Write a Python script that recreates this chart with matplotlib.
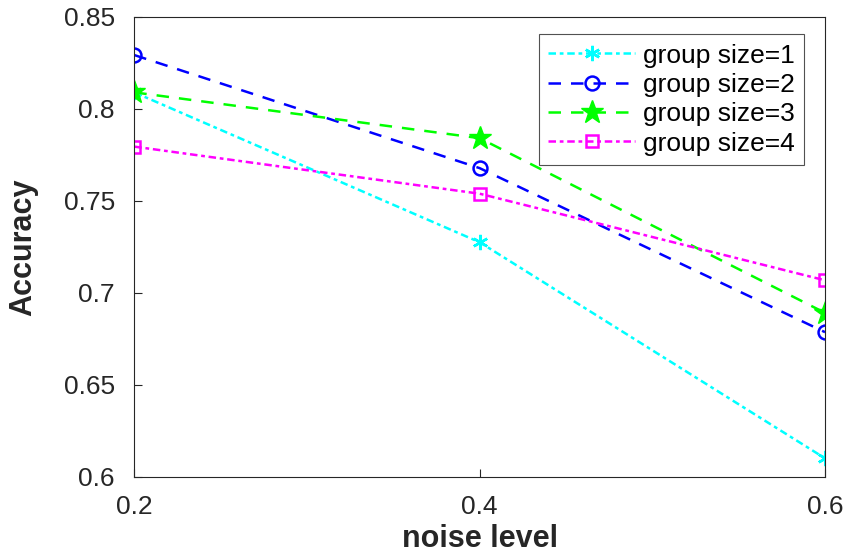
import matplotlib
matplotlib.use('Agg')
import matplotlib.pyplot as plt

plt.rcParams['font.family'] = ['Liberation Sans', 'DejaVu Sans']

# data
noise = [0.2, 0.4, 0.6]
acc_g1 = [0.809, 0.7275, 0.610]
acc_g2 = [0.8293, 0.7678, 0.6786]
acc_g3 = [0.809, 0.7841, 0.6891]
acc_g4 = [0.7795, 0.7539, 0.7068]
labels = ['group size=1', 'group size=2', 'group size=3', 'group size=4']

fig = plt.figure(figsize=(8.44, 5.57), dpi=100)
ax = fig.add_axes([0.1591, 0.1442, 0.8184, 0.8253])

asterisk = (6, 2, 0)
ax.plot(noise, acc_g1, color='#00ffff', ls=(0, (3, 1.5, 1.5, 1.5)), lw=1.8,
        marker=asterisk, ms=11, mew=1.8, label=labels[0])
ax.plot(noise, acc_g2, color='#0000ff', ls=(0, (5, 4)), lw=1.8,
        marker='o', ms=10, mfc='none', mew=1.8, label=labels[1])
ax.plot(noise, acc_g3, color='#00ff00', ls=(0, (5, 4)), lw=1.8,
        marker='*', ms=17, label=labels[2])
ax.plot(noise, acc_g4, color='#ff00ff', ls=(0, (3, 1.5, 1.5, 1.5)), lw=1.8,
        marker='s', ms=9, mfc='none', mew=1.8, label=labels[3])

ax.set_xlim(0.2, 0.6)
ax.set_ylim(0.6, 0.85)
ax.set_xticks(noise)
ax.set_xticklabels(['0.2', '0.4', '0.6'])
ax.set_yticks([0.6, 0.65, 0.7, 0.75, 0.8, 0.85])
ax.set_yticklabels(['0.6', '0.65', '0.7', '0.75', '0.8', '0.85'])
ax.tick_params(direction='in', length=6, width=0.8, labelsize=19,
               colors='#262626', top=False, right=False)
ax.tick_params(axis='y', pad=14)
ax.tick_params(axis='x', pad=13)
for s in ax.spines.values():
    s.set_color('#262626')
    s.set_linewidth(0.8)

ax.set_xlabel('noise level', fontsize=22, fontweight='bold', color='#262626', labelpad=4)
ax.set_ylabel('Accuracy', fontsize=22, fontweight='bold', color='#262626', labelpad=18)

leg = ax.legend(loc='upper right', bbox_to_anchor=(0.97, 0.962), fontsize=19,
                frameon=True, fancybox=False, edgecolor='#262626',
                handlelength=3.3, handletextpad=0.3, borderpad=0.35,
                labelspacing=0.2, borderaxespad=0)
leg.get_frame().set_linewidth(0.8)

plt.savefig('out.png', dpi=100)
